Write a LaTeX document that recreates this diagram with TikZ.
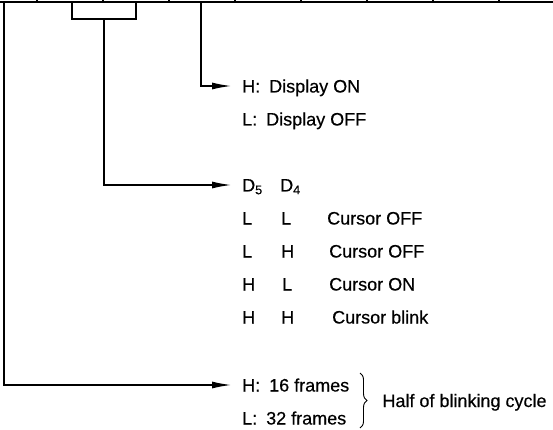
\documentclass[tikz,border=0pt]{standalone}
\usepackage{fontspec}
\setmainfont[FakeBold=0.4]{Liberation Sans}
\usetikzlibrary{arrows.meta, positioning, decorations.pathreplacing}

\begin{document}
\begin{tikzpicture}[x=1pt, y=-1pt,
  lbl/.style={anchor=west, inner xsep=11pt, inner ysep=0pt, text height=13pt, text depth=0pt, font=\fontsize{18}{20}\selectfont},
  col/.style={anchor=west, inner sep=0pt, text height=13pt, text depth=0pt, font=\fontsize{18}{20}\selectfont},
  wire/.style={line width=1.2pt},
  arr/.style={-{Latex[length=19pt, width=7pt]}, line width=1.2pt},
  brace/.style={decorate, decoration={brace, amplitude=7pt}, line width=0.9pt},
]
\useasboundingbox (0,0) rectangle (553,430);

% --- register bottom edge ---
\draw[wire] (0,2) -- (553,2);
\foreach \x in {37,103,169,235,301,367,433,499}
  \draw[wire] (\x,0) -- (\x,2);
\draw[wire] (72,2) |- (136,19) -- (136,2);

% --- tap points ---
\coordinate (tapblink) at (4,2);
\coordinate (tapcur) at (104,19);
\coordinate (tapdisp) at (201,2);

% --- display bit ---
\node[lbl] (dispon) at (231,86) {H:\enspace Display ON};
\node[lbl] (dispoff) at (231,119) {L:\enspace Display OFF};

% --- cursor bits ---
\node[lbl] (dfive) at (231,185) {D\textsubscript{5}};
\node[col] (dfour) at (280,185) {D\textsubscript{4}};
\node[lbl] (ll) at (231,218) {L};
\node[col] (llb) at (281,218) {L};
\node[col] (llc) at (327,218) {Cursor OFF};
\node[lbl] (lh) at (231,251) {L};
\node[col] (lhb) at (281,251) {H};
\node[col] (lhc) at (329,251) {Cursor OFF};
\node[lbl] (hl) at (231,284) {H};
\node[col] (hlb) at (282,284) {L};
\node[col] (hlc) at (329,284) {Cursor ON};
\node[lbl] (hh) at (231,317) {H};
\node[col] (hhb) at (281,317) {H};
\node[col] (hhc) at (332,317) {Cursor blink};

% --- blink bit ---
\node[lbl] (frsixteen) at (231,385) {H:\enspace 16 frames};
\node[lbl] (frthirtytwo) at (231,418) {L:\enspace 32 frames};
\coordinate (bracetop) at (360,373);
\coordinate (bracebot) at (360,428);
\draw[brace] (bracetop) -- (bracebot)
  node[col, midway, right=22pt] (halfcycle) {Half of blinking cycle};

% --- arrows ---
\draw[arr] (tapdisp) |- (dispon.west);
\draw[arr] (tapcur) |- (dfive.west);
\draw[arr] (tapblink) |- (frsixteen.west);
\end{tikzpicture}
\end{document}
